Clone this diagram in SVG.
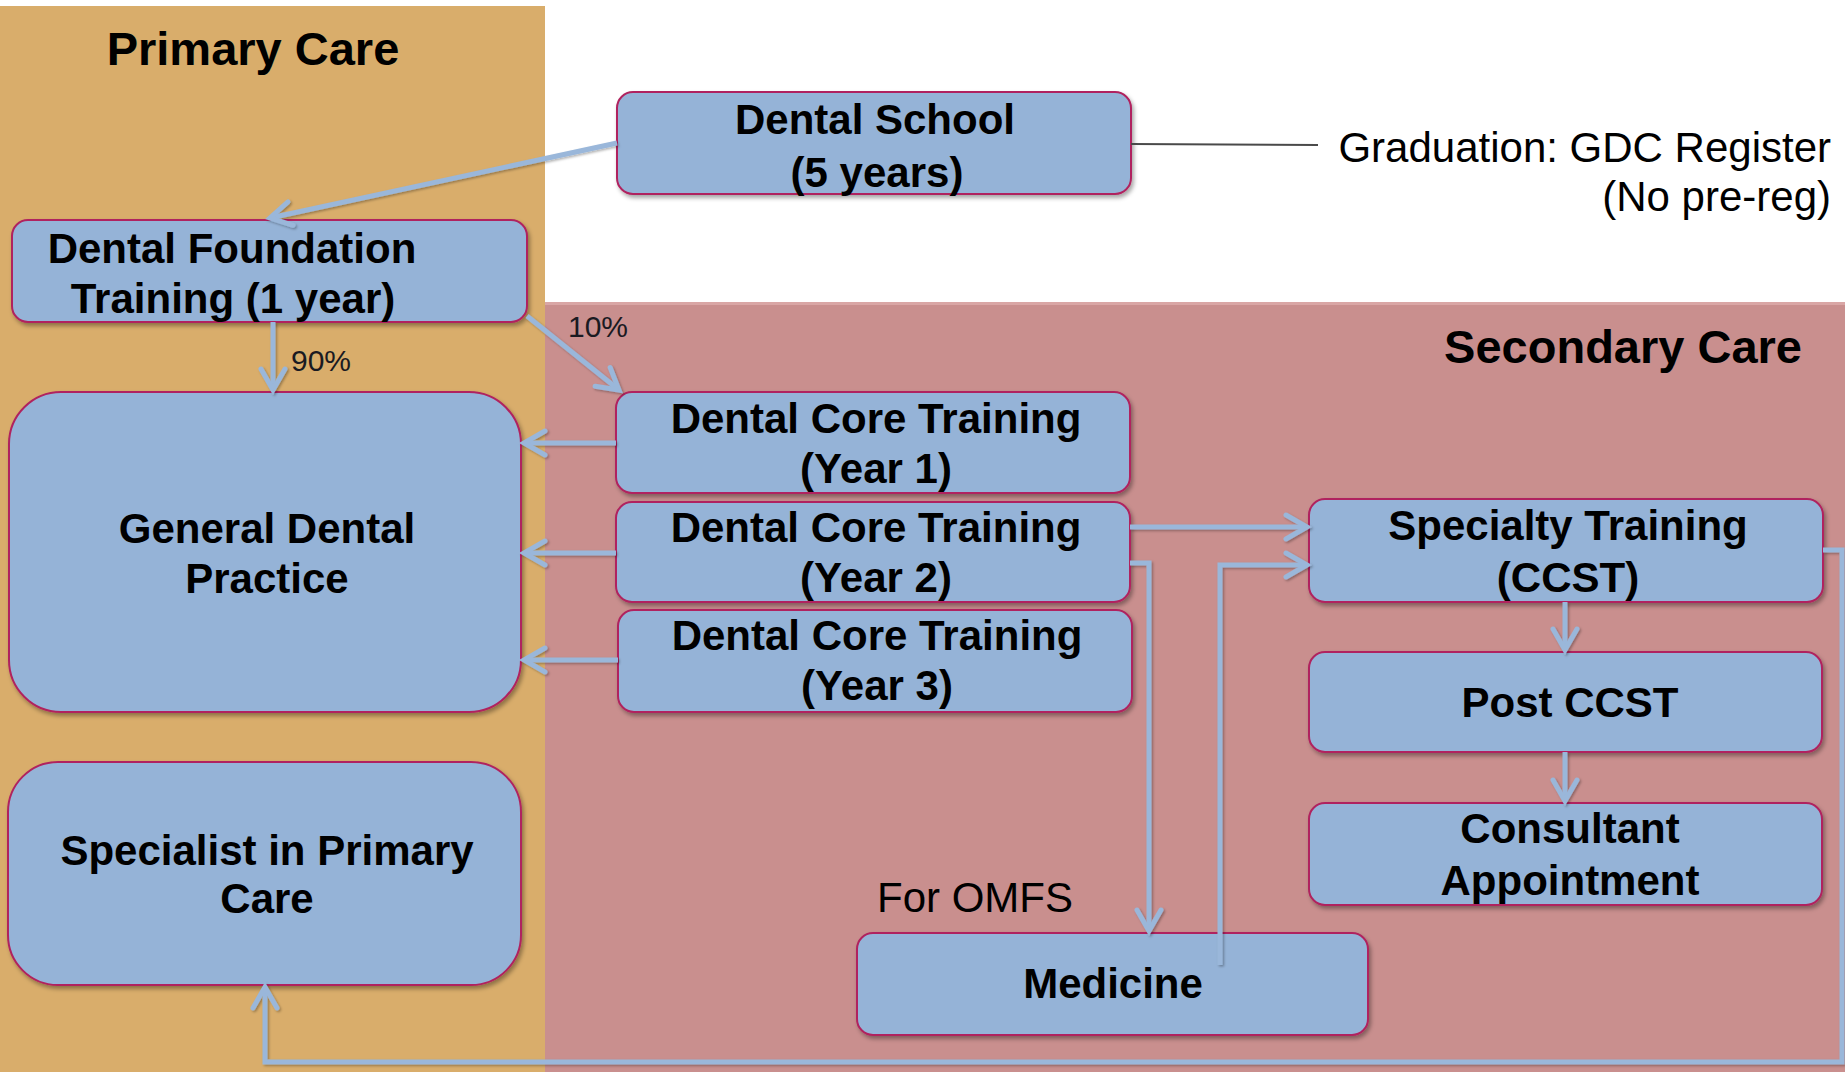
<svg xmlns="http://www.w3.org/2000/svg" width="1845" height="1072" viewBox="0 0 1845 1072">
  <defs>
    <filter id="sh" x="-5%" y="-5%" width="115%" height="125%">
      <feDropShadow dx="2" dy="3" stdDeviation="2" flood-color="#000" flood-opacity="0.35"/>
    </filter>
    <filter id="csh" x="-2%" y="-2%" width="104%" height="104%">
      <feDropShadow dx="1.5" dy="1.5" stdDeviation="1" flood-color="#000" flood-opacity="0.3"/>
    </filter>
    <marker id="ah" markerUnits="userSpaceOnUse" markerWidth="30" markerHeight="32" viewBox="0 0 30 32" refX="25" refY="16" orient="auto">
      <path d="M4,4 L25,16 L4,28" fill="none" stroke="#9ab7da" stroke-width="5" stroke-linecap="round" stroke-linejoin="miter"/>
    </marker>
    <style>
      .box { fill: #95b3d7; stroke: #b0245e; stroke-width: 2; filter: url(#sh); }
      .lbl { font-family: "Liberation Sans", Arial, sans-serif; font-weight: bold; font-size: 42px; fill: #000; text-anchor: middle; }
      .title { font-family: "Liberation Sans", Arial, sans-serif; font-weight: bold; font-size: 47px; fill: #000; }
      .note { font-family: "Liberation Sans", Arial, sans-serif; font-size: 42px; fill: #000; }
      .pct { font-family: "Liberation Sans", Arial, sans-serif; font-size: 30px; fill: #1a1a22; }
      .conn { fill: none; stroke: #9ab7da; stroke-width: 5; stroke-linejoin: miter; }
      .arr { marker-end: url(#ah); }
    </style>
  </defs>

  <rect x="0" y="0" width="1845" height="1072" fill="#ffffff"/>

  <g id="primary-care-area">
    <rect x="0" y="6" width="545" height="1066" fill="#d9ad6b"/>
    <text class="title" x="253" y="65" text-anchor="middle">Primary Care</text>
  </g>
  <g id="secondary-care-area">
    <rect x="545" y="302" width="1300" height="770" fill="#c98f8e"/>
    <rect x="545" y="302" width="1300" height="3" fill="#d9a6a5"/>
    <text class="title" x="1802" y="363" text-anchor="end">Secondary Care</text>
  </g>

  <g id="dental-school">
    <rect class="box" x="617" y="92" width="514" height="102" rx="16"/>
    <text class="lbl" x="875" y="134">Dental School</text>
    <text class="lbl" x="877" y="187">(5 years)</text>
  </g>

  <g id="graduation-note">
    <text class="note" x="1831" y="162" text-anchor="end">Graduation: GDC Register</text>
    <text class="note" x="1831" y="211" text-anchor="end">(No pre-reg)</text>
  </g>

  <g id="dental-foundation-training">
    <rect class="box" x="12" y="220" width="515" height="102" rx="16"/>
    <text class="lbl" x="232" y="263">Dental Foundation</text>
    <text class="lbl" x="233" y="313">Training (1 year)</text>
  </g>

  <g id="general-dental-practice">
    <rect class="box" x="9" y="392" width="512" height="320" rx="52"/>
    <text class="lbl" x="267" y="543">General Dental</text>
    <text class="lbl" x="267" y="593">Practice</text>
  </g>

  <g id="specialist-primary-care">
    <rect class="box" x="8" y="762" width="513" height="223" rx="50"/>
    <text class="lbl" x="267" y="865">Specialist in Primary</text>
    <text class="lbl" x="267" y="913">Care</text>
  </g>

  <g id="dct-year1">
    <rect class="box" x="616" y="392" width="514" height="101" rx="16"/>
    <text class="lbl" x="876" y="433">Dental Core Training</text>
    <text class="lbl" x="876" y="483">(Year 1)</text>
  </g>

  <g id="dct-year2">
    <rect class="box" x="616" y="502" width="514" height="100" rx="16"/>
    <text class="lbl" x="876" y="542">Dental Core Training</text>
    <text class="lbl" x="876" y="592">(Year 2)</text>
  </g>

  <g id="dct-year3">
    <rect class="box" x="618" y="610" width="514" height="102" rx="16"/>
    <text class="lbl" x="877" y="650">Dental Core Training</text>
    <text class="lbl" x="877" y="700">(Year 3)</text>
  </g>

  <g id="specialty-training">
    <rect class="box" x="1309" y="499" width="514" height="103" rx="16"/>
    <text class="lbl" x="1568" y="540">Specialty Training</text>
    <text class="lbl" x="1568" y="592">(CCST)</text>
  </g>

  <g id="post-ccst">
    <rect class="box" x="1309" y="652" width="513" height="100" rx="16"/>
    <text class="lbl" x="1570" y="717">Post CCST</text>
  </g>

  <g id="consultant-appointment">
    <rect class="box" x="1309" y="803" width="513" height="102" rx="16"/>
    <text class="lbl" x="1570" y="843">Consultant</text>
    <text class="lbl" x="1570" y="895">Appointment</text>
  </g>

  <g id="medicine">
    <rect class="box" x="857" y="933" width="511" height="102" rx="16"/>
    <text class="lbl" x="1113" y="998">Medicine</text>
  </g>

  <g id="for-omfs-label">
    <text class="note" x="877" y="912">For OMFS</text>
  </g>

  <g id="connectors">
    <line x1="1131" y1="144" x2="1318" y2="145" stroke="#4a4a4a" stroke-width="2"/>
    <g filter="url(#csh)">
      <line class="conn arr" x1="617" y1="143" x2="270" y2="218"/>
      <line class="conn arr" x1="273" y1="322" x2="273" y2="390"/>
      <line class="conn arr" x1="527" y1="316" x2="619" y2="390"/>
      <line class="conn arr" x1="616" y1="443" x2="524" y2="443"/>
      <line class="conn arr" x1="616" y1="553" x2="524" y2="553"/>
      <line class="conn arr" x1="618" y1="660" x2="524" y2="660"/>
      <line class="conn arr" x1="1130" y1="527" x2="1307" y2="527"/>
      <polyline class="conn arr" points="1130,563 1149,563 1149,931"/>
      <polyline class="conn arr" points="1220,965 1220,565 1307,565"/>
      <line class="conn arr" x1="1565" y1="602" x2="1565" y2="650"/>
      <line class="conn arr" x1="1565" y1="752" x2="1565" y2="801"/>
      <polyline class="conn arr" points="1823,550 1842,550 1842,1062 265,1062 265,987"/>
    </g>
    <text class="pct" x="291" y="371">90%</text>
    <text class="pct" x="568" y="337">10%</text>
  </g>
</svg>
